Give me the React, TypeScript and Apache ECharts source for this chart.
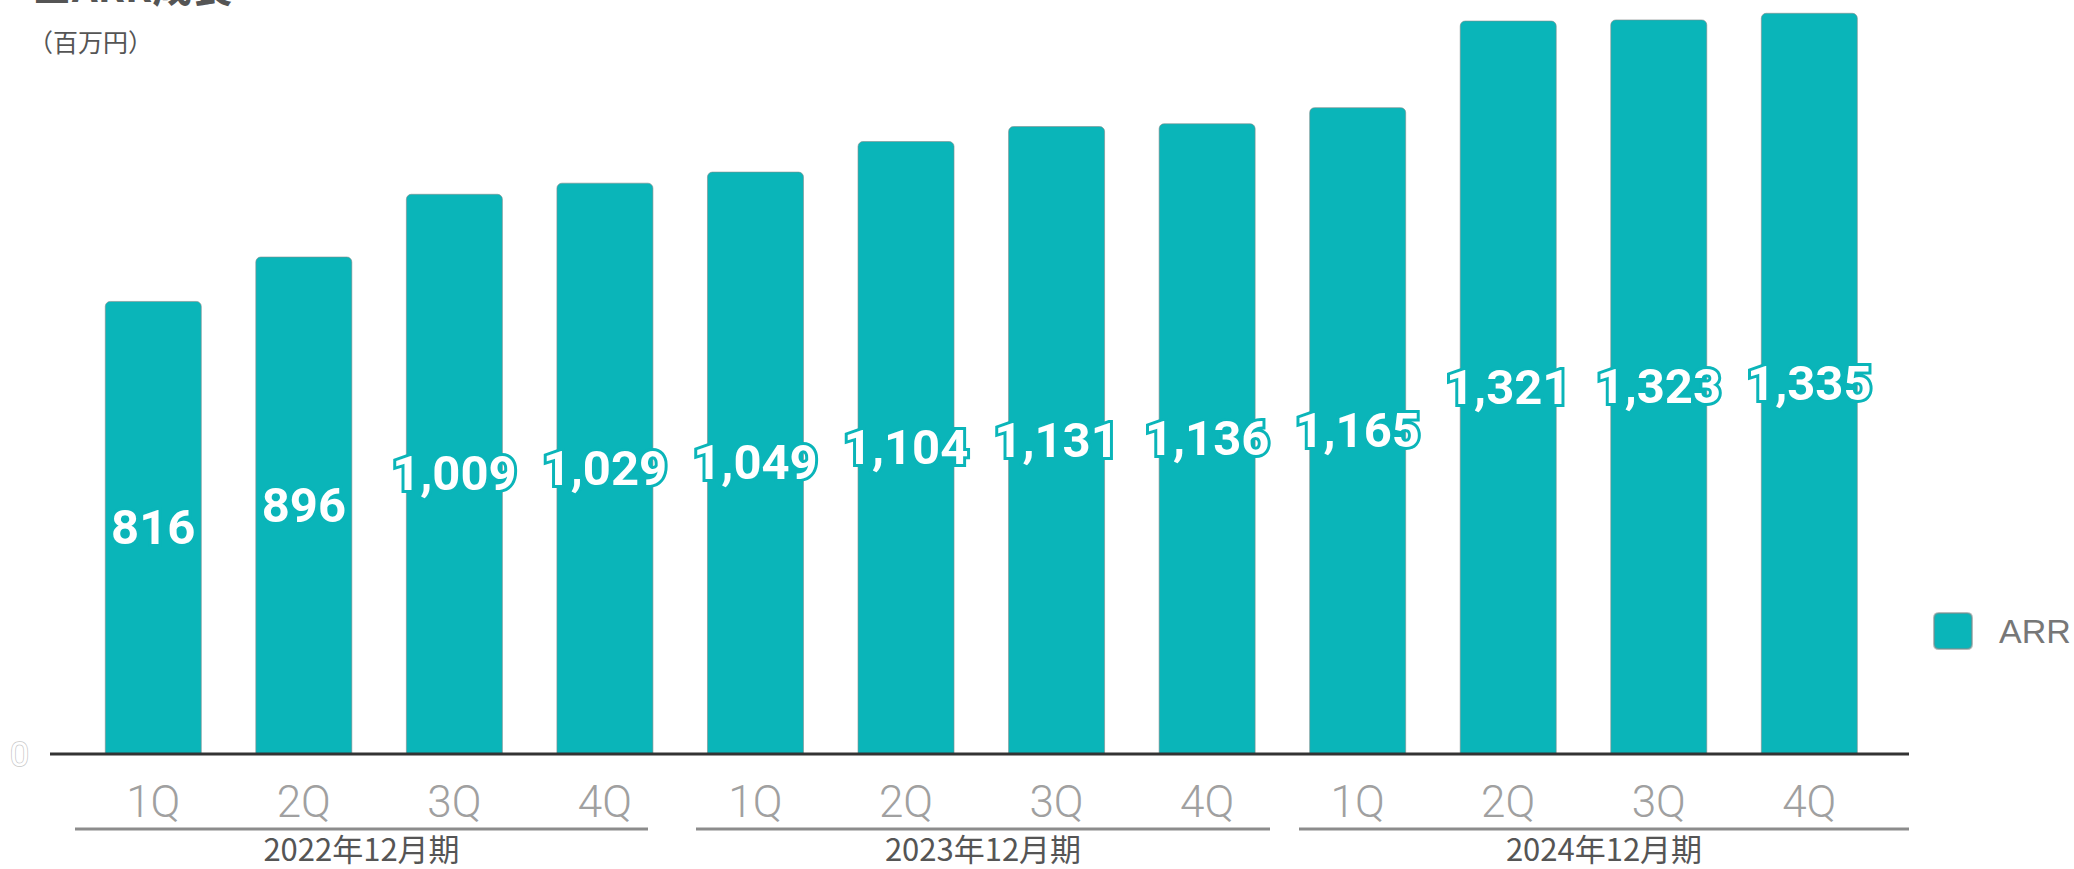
import React, { useEffect, useRef } from "react";
import * as echarts from "echarts";

const quarters = ["1Q", "2Q", "3Q", "4Q", "1Q", "2Q", "3Q", "4Q", "1Q", "2Q", "3Q", "4Q"];
const arrValues = [816, 896, 1009, 1029, 1049, 1104, 1131, 1136, 1165, 1321, 1323, 1335];
const fiscalYears = ["2022年12月期", "2023年12月期", "2024年12月期"];
const seriesName = "ARR";
const titleText = "■ARR成長";
const unitText = "（百万円）";

const TEAL = "#0AB5B9";

export default function App() {
  const ref = useRef<HTMLDivElement>(null);
  useEffect(() => {
    document.body.style.margin = "0";
    const chart = echarts.init(ref.current!, null, { renderer: "svg" });
    const groupLines = [
      [75, 648],
      [696, 1270],
      [1299, 1909],
    ];
    const graphics: any[] = [
      {
        type: "text",
        left: 32,
        top: -35,
        style: { text: titleText, fontSize: 40, fontWeight: "bold", fill: "#555", fontFamily: "Noto Sans CJK JP" },
      },
      {
        type: "text",
        x: 28,
        y: 41,
        style: { text: unitText, fontSize: 25, fill: "#555", fontFamily: "Noto Sans CJK JP", verticalAlign: "middle" },
      },
      {
        type: "line",
        shape: { x1: 50, y1: 754, x2: 1909, y2: 754 },
        style: { stroke: "#333", lineWidth: 3 },
        z: 100,
      },
    ];
    fiscalYears.forEach((fy, i) => {
      const [a, b] = groupLines[i];
      graphics.push({
        type: "line",
        shape: { x1: a, y1: 829, x2: b, y2: 829 },
        style: { stroke: "#8c8c8c", lineWidth: 3 },
      });
      graphics.push({
        type: "text",
        x: (a + b) / 2,
        y: 847,
        style: {
          text: fy,
          fontSize: 31,
          lineHeight: 31,
          fill: "#555",
          fontFamily: "Noto Sans CJK JP",
          align: "center",
          verticalAlign: "middle",
        },
      });
    });

    chart.setOption({
      animation: false,
      grid: { left: 78, width: 1806.6, top: 0, bottom: 115, containLabel: false },
      legend: {
        data: [seriesName],
        left: 1933,
        top: 612,
        orient: "vertical",
        itemWidth: 38,
        itemHeight: 36,
        padding: 0,
        icon: "path://M5,0H33Q38,0 38,5V31Q38,36 33,36H5Q0,36 0,31V5Q0,0 5,0Z",
        textStyle: { fontSize: 34, color: "#777", fontFamily: "Liberation Sans", padding: [0, 0, 0, 22] },
      },
      xAxis: {
        type: "category",
        data: quarters,
        axisLine: { show: false },
        axisTick: { show: false },
        axisLabel: {
          margin: 26,
          fontSize: 44,
          fontWeight: 300,
          color: "#a0a0a0",
          fontFamily: "Roboto",
          interval: 0,
        },
      },
      yAxis: {
        type: "value",
        min: 0,
        max: 1358,
        interval: 1358,
        splitLine: { show: false },
        axisLine: { show: false },
        axisTick: { show: false },
        axisLabel: {
          margin: 49,
          fontSize: 34,
          color: "#fff",
          textBorderColor: "#c8c8c8",
          textBorderWidth: 1.5,
          fontFamily: "Roboto",
          formatter: (v: number) => (v === 0 ? "0" : ""),
        },
      },
      series: [
        {
          name: seriesName,
          type: "bar",
          data: arrValues,
          barWidth: 97,
          itemStyle: {
            color: TEAL,
            borderRadius: [5, 5, 0, 0],
            borderColor: "rgba(130,140,140,0.6)",
            borderWidth: 1,
          },
          label: {
            show: true,
            position: "inside",
            formatter: (p: any) => p.value.toLocaleString("en-US"),
            fontSize: 49,
            fontWeight: "bold",
            fontFamily: "Roboto",
            color: "#fff",
            textBorderColor: TEAL,
            textBorderWidth: 6,
          },
        },
      ],
      graphic: graphics,
    });
    return () => chart.dispose();
  }, []);
  return <div ref={ref} style={{ width: 2074, height: 869 }} />;
}
